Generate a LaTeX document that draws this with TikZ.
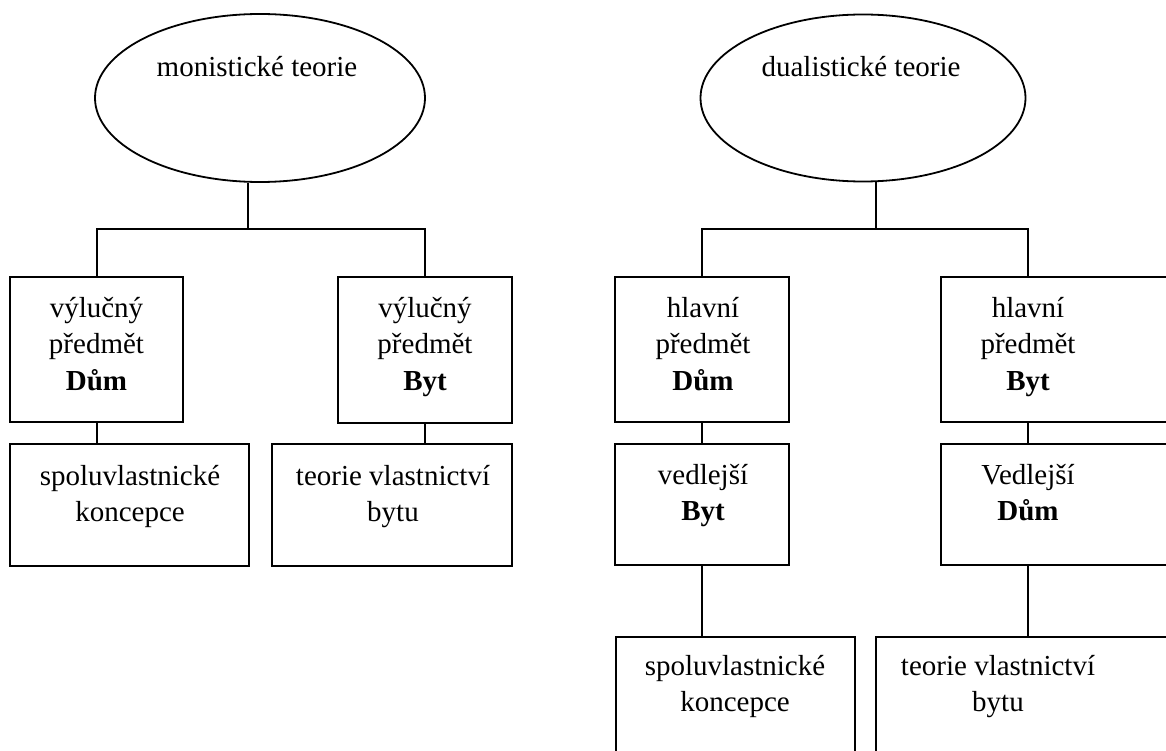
\documentclass[tikz,border=0pt]{standalone}
\usepackage{fontspec}
\setmainfont{Liberation Serif}
\usetikzlibrary{shapes.geometric}
\begin{document}
\begin{tikzpicture}[x=1pt,y=-1pt,
  bx/.style={draw, rectangle, inner sep=0pt, line width=2pt},
  ell/.style={draw, ellipse, inner sep=0pt, line width=1.8pt},
  txt/.style={anchor=base, align=center, inner sep=0pt, font=\fontsize{29}{36.5}\selectfont},
  link/.style={line width=2pt}]
\useasboundingbox (0,0) rectangle (1166,751);
\clip (0,0) rectangle (1166,751);
% ellipses
\node[ell, minimum width=330pt, minimum height=168pt] (e1) at (260,98) {};
\node[ell, minimum width=325pt, minimum height=167pt] (e2) at (863,98) {};
\node[txt] (te1) at (257,77) {monistické teorie};
\node[txt] (te2) at (861,77) {dualistické teorie};
% junctions
\coordinate (j1) at (248,229);
\coordinate (j2) at (876,229);
% boxes
\node[bx, minimum width=173pt, minimum height=145pt] (b1) at (96.5,349.5) {};
\node[bx, minimum width=174pt, minimum height=146pt] (b2) at (425,350) {};
\node[bx, minimum width=239pt, minimum height=122pt] (b3) at (129.5,505) {};
\node[bx, minimum width=240pt, minimum height=122pt] (b4) at (392,505) {};
\node[bx, minimum width=174pt, minimum height=145pt] (b5) at (702,349.5) {};
\node[bx, minimum width=250pt, minimum height=145pt] (b6) at (1066,349.5) {};
\node[bx, minimum width=174pt, minimum height=121pt] (b8) at (702,504.5) {};
\node[bx, minimum width=250pt, minimum height=121pt] (b7) at (1066,504.5) {};
\node[bx, minimum width=239pt, minimum height=160pt] (b9) at (735.5,717) {};
\node[bx, minimum width=320pt, minimum height=160pt] (b10) at (1036,717) {};
% texts (anchor = baseline of last line)
\node[txt] (t1) at (96.5,390) {výlučný\\předmět\\\textbf{Dům}};
\node[txt] (t2) at (425,390) {výlučný\\předmět\\\textbf{Byt}};
\node[txt] (t3) at (130,521.5) {spoluvlastnické\\koncepce};
\node[txt] (t4) at (393,521.5) {teorie vlastnictví\\bytu};
\node[txt] (t5) at (703,390) {hlavní\\předmět\\\textbf{Dům}};
\node[txt] (t6) at (1028,390) {hlavní\\předmět\\\textbf{Byt}};
\node[txt] (t8) at (703,520.5) {vedlejší\\\textbf{Byt}};
\node[txt] (t7) at (1028,520.5) {Vedlejší\\\textbf{Dům}};
\node[txt] (t9) at (735,711.5) {spoluvlastnické\\koncepce};
\node[txt] (t10) at (998,711.5) {teorie vlastnictví\\bytu};
% connectors
\draw[link] (j1 |- e1.south) -- (j1);
\draw[link] (b1.north) |- (j1) -| (b2.north);
\draw[link] (j2 |- e2.south) -- (j2);
\draw[link] (b5.north) |- (j2) -| (t6.north |- b6.north);
\draw[link] (b1.south) -- (b1.south |- b3.north);
\draw[link] (b2.south) -- (b2.south |- b4.north);
\draw[link] (b5.south) -- (b8.north);
\draw[link] (b8.south) -- (b8.south |- b9.north);
\draw[link] (t6.north |- b6.south) -- (t6.north |- b7.north);
\draw[link] (t6.north |- b7.south) -- (t6.north |- b10.north);
\end{tikzpicture}
\end{document}
